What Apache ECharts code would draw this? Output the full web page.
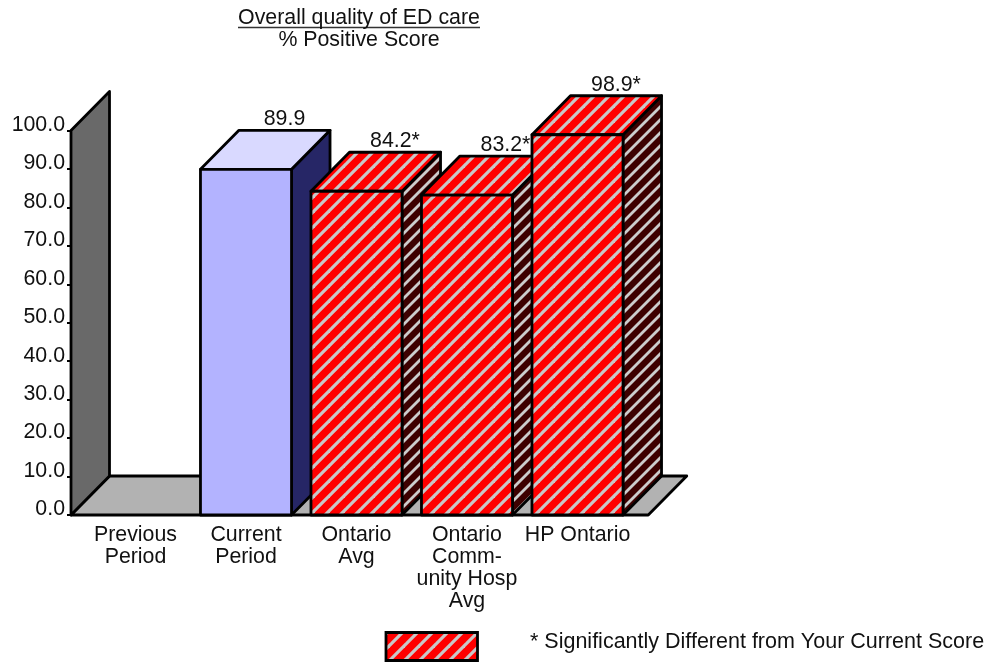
<!DOCTYPE html>
<html>
<head>
<meta charset="utf-8">
<style>html,body{margin:0;padding:0;background:#fff}#chart{width:989px;height:662px}</style>
<script src="https://cdn.jsdelivr.net/npm/echarts@6/dist/echarts.min.js"></script>
</head>
<body>
<div id="chart"></div>
<script>
// Survey scores for one question, drawn as extruded columns.
var categories = ['Previous\nPeriod', 'Current\nPeriod', 'Ontario\nAvg', 'Ontario\nComm-\nunity Hosp\nAvg', 'HP Ontario'];
var scores = [null, 89.9, 84.2, 83.2, 98.9];
var significant = [false, false, true, true, true];
var yTicks = { min: 0, max: 100, step: 10 };
var titleLine = 'Overall quality of ED care';
var subtitleLine = '% Positive Score';
var legendNote = '* Significantly Different from Your Current Score';

var FONT = '"Liberation Sans", Arial, sans-serif';
var FONT_SIZE = 21.33;
var TEXT = '#111';
var DX = 38.5, DY = 39;         // extrusion offset of the 3D depth
var AXIS_GAP = 9.25;            // left wall sits this far left of the first band
var FLOOR_OVERHANG = 15.5;      // floor runs past the last band by this much
var BAR_RATIO = 0.824;

// Diagonal hatch tile used for the "significant" columns.
function hatch(bg, stripe, w, h, width) {
  var c = document.createElement('canvas');
  c.width = w;
  c.height = h;
  var g = c.getContext('2d');
  g.fillStyle = bg;
  g.fillRect(0, 0, w, h);
  g.strokeStyle = stripe;
  g.lineWidth = width;
  [-1, 0, 1].forEach(function (k) {
    g.beginPath();
    g.moveTo(k * w - w * 0.25, h * 1.25);
    g.lineTo(k * w + w * 1.25, -h * 0.25);
    g.stroke();
  });
  return { image: c, repeat: 'repeat' };
}
var redHatch = hatch('#ff0000', '#c8c8c8', 15, 15, 3.2);
var darkHatch = hatch('#3d0000', '#cccccc', 13, 13, 2.8);

var plain = { front: '#b3b3ff', top: '#d9d9ff', side: '#262666' };
var hatched = { front: redHatch, top: redHatch, side: darkHatch };

function poly(points, fill) {
  return {
    type: 'polygon',
    shape: { points: points },
    style: { fill: fill, stroke: '#000', lineWidth: 2.8, lineJoin: 'round' }
  };
}

// Back wall and floor of the chart box.
function renderRoom(params, api) {
  var cs = params.coordSys;
  var bottom = api.coord([0, yTicks.min])[1];
  var top = api.coord([0, yTicks.max])[1];
  var left = cs.x - AXIS_GAP;
  var right = cs.x + cs.width + FLOOR_OVERHANG;
  return {
    type: 'group',
    children: [
      poly([[left, bottom], [left + DX, bottom - DY], [right + DX, bottom - DY], [right, bottom]], '#b2b2b2'),
      poly([[left, bottom], [left + DX, bottom - DY], [left + DX, top - DY], [left, top]], '#696969')
    ]
  };
}

function renderBar(params, api) {
  var value = api.value(1);
  if (value == null || isNaN(value)) return;
  var i = api.value(0);
  var base = api.coord([i, 0]);
  var tip = api.coord([i, value]);
  var w = api.size([1, 0])[0] * BAR_RATIO;
  var x0 = base[0] - w / 2, x1 = base[0] + w / 2, y0 = base[1], y1 = tip[1];
  var skin = significant[i] ? hatched : plain;
  return {
    type: 'group',
    children: [
      poly([[x1, y0], [x1 + DX, y0 - DY], [x1 + DX, y1 - DY], [x1, y1]], skin.side),
      poly([[x0, y1], [x0 + DX, y1 - DY], [x1 + DX, y1 - DY], [x1, y1]], skin.top),
      poly([[x0, y0], [x0, y1], [x1, y1], [x1, y0]], skin.front),
      {
        type: 'text',
        style: {
          x: base[0] + DX,
          y: y1 - DY - 0.5,
          text: value.toFixed(1) + (significant[i] ? '*' : ''),
          font: FONT_SIZE + 'px ' + FONT,
          fill: TEXT,
          align: 'center',
          verticalAlign: 'bottom'
        }
      }
    ]
  };
}

var chart = echarts.init(document.getElementById('chart'), null, { renderer: 'canvas' });
chart.setOption({
  animation: false,
  backgroundColor: '#fff',
  title: {
    text: titleLine,
    subtext: subtitleLine,
    left: 359,
    top: 7.5,
    textAlign: 'center',
    itemGap: 0,
    textStyle: { fontFamily: FONT, fontSize: FONT_SIZE, fontWeight: 'normal', color: TEXT, lineHeight: 22 },
    subtextStyle: { fontFamily: FONT, fontSize: FONT_SIZE, color: TEXT, lineHeight: 22 },
    padding: 0
  },
  grid: { left: 80.25, top: 130.5, width: 552.5, height: 384.5, containLabel: false },
  xAxis: {
    type: 'category',
    data: categories,
    axisLine: { show: false },
    axisTick: { show: false },
    axisLabel: {
      interval: 0, margin: 9, color: TEXT,
      fontFamily: FONT, fontSize: FONT_SIZE, lineHeight: 22, align: 'center'
    }
  },
  yAxis: {
    type: 'value',
    min: yTicks.min, max: yTicks.max, interval: yTicks.step,
    offset: AXIS_GAP,
    splitLine: { show: false },
    axisLine: { show: true, lineStyle: { color: '#000', width: 2.5 } },
    axisTick: { show: true, length: 4, lineStyle: { color: '#000', width: 2 } },
    axisLabel: {
      margin: 6, color: TEXT, fontFamily: FONT, fontSize: FONT_SIZE,
      verticalAlign: 'bottom', lineHeight: 11,
      formatter: function (v) { return v.toFixed(1); }
    }
  },
  series: [
    {
      type: 'custom', name: 'room', renderItem: renderRoom,
      data: [[0, 0]], silent: true, z: 1, clip: false
    },
    {
      type: 'custom', name: 'scores', renderItem: renderBar,
      encode: { x: 0, y: 1 },
      data: scores.map(function (v, i) { return [i, v === null ? '-' : v]; }),
      z: 2, clip: false
    }
  ],
  graphic: [
    { type: 'line', shape: { x1: 238, y1: 27.5, x2: 480, y2: 27.5 }, style: { stroke: '#333', lineWidth: 1.6 } },
    { type: 'rect', shape: { x: 386, y: 632.5, width: 91.5, height: 28 }, style: { fill: redHatch, stroke: '#000', lineWidth: 2.8 } },
    {
      type: 'text', left: 530, top: 631,
      style: { text: legendNote, font: '21.5px ' + FONT, fill: TEXT }
    }
  ]
});
</script>
</body>
</html>
